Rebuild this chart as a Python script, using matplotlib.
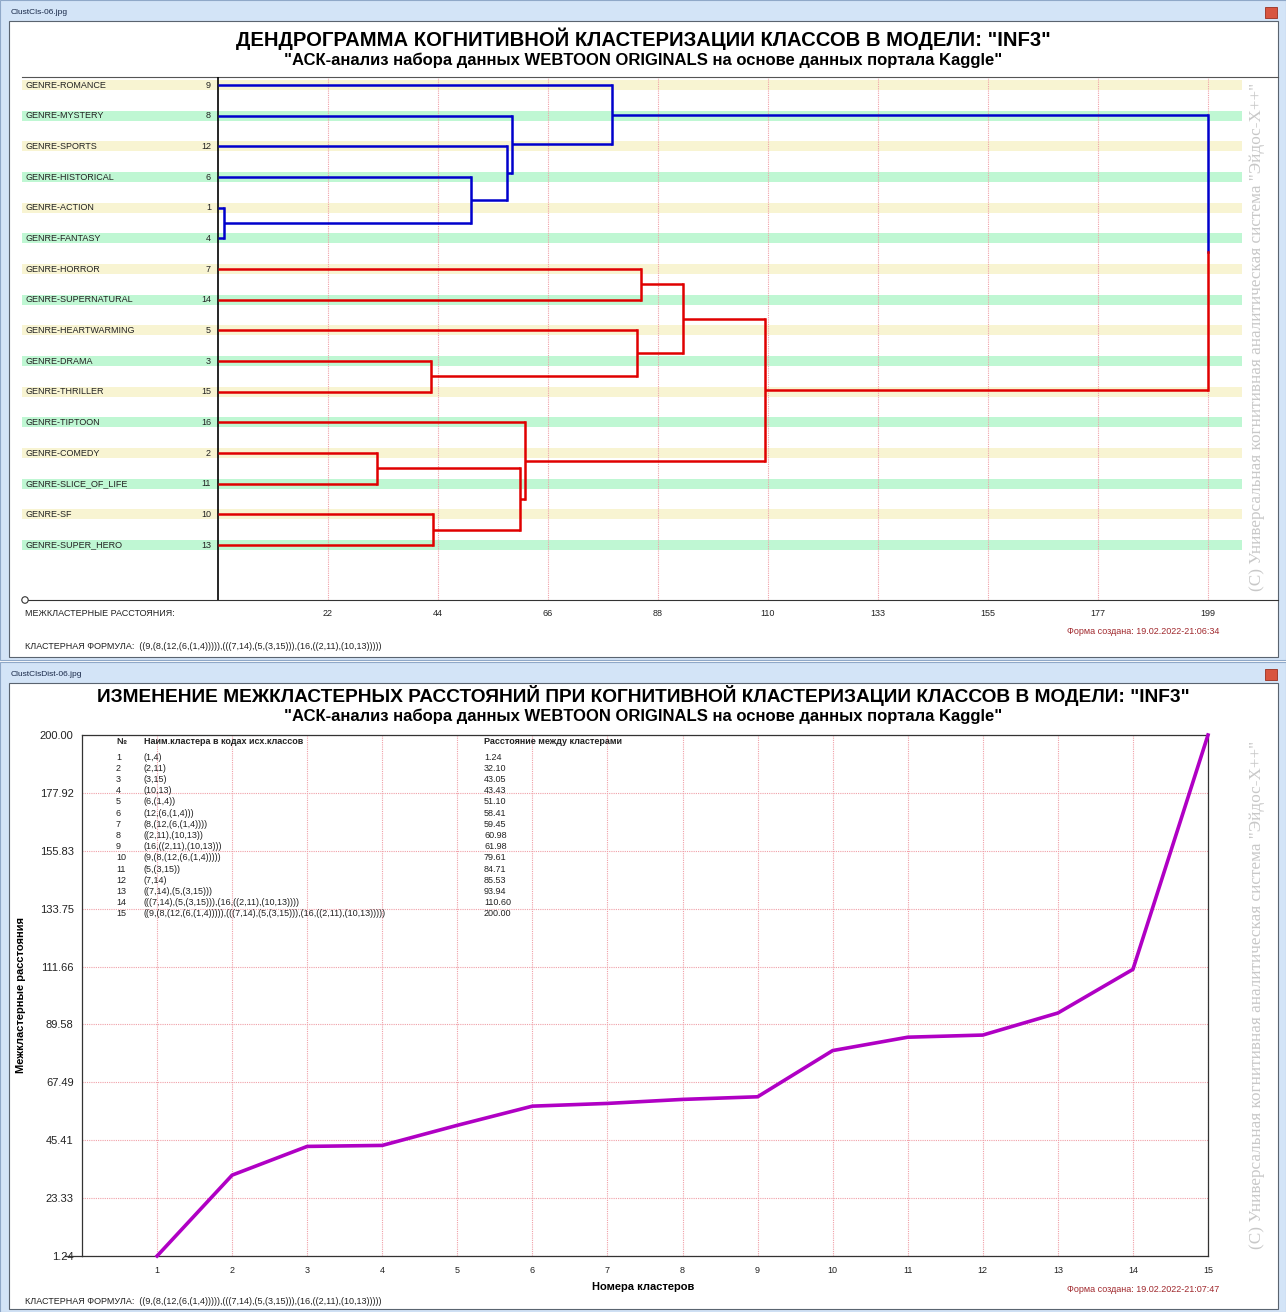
import matplotlib
matplotlib.use("Agg")
import matplotlib.pyplot as plt
from matplotlib.patches import Rectangle, Circle
from matplotlib.lines import Line2D

plt.rcParams['font.family'] = ['Liberation Sans', 'DejaVu Sans']

W, H = 1286, 1312

# --- data -----------------------------------------------------------------
leaf_names = ["GENRE-ROMANCE", "GENRE-MYSTERY", "GENRE-SPORTS", "GENRE-HISTORICAL",
              "GENRE-ACTION", "GENRE-FANTASY", "GENRE-HORROR", "GENRE-SUPERNATURAL",
              "GENRE-HEARTWARMING", "GENRE-DRAMA", "GENRE-THRILLER", "GENRE-TIPTOON",
              "GENRE-COMEDY", "GENRE-SLICE_OF_LIFE", "GENRE-SF", "GENRE-SUPER_HERO"]
leaf_ids = [9, 8, 12, 6, 1, 4, 7, 14, 5, 3, 15, 16, 2, 11, 10, 13]

# merges: new cluster k gets id 16+k
merge_a = [1, 2, 3, 10, 6, 12, 8, 18, 16, 9, 5, 7, 28, 29, 26]
merge_b = [4, 11, 15, 13, 17, 21, 22, 20, 24, 23, 19, 14, 27, 25, 30]
distances = [1.24, 32.10, 43.05, 43.43, 51.10, 58.41, 59.45, 60.98, 61.98,
             79.61, 84.71, 85.53, 93.94, 110.60, 200.00]
cluster_names = ["(1,4)", "(2,11)", "(3,15)", "(10,13)", "(6,(1,4))", "(12,(6,(1,4)))",
                 "(8,(12,(6,(1,4))))", "((2,11),(10,13))", "(16,((2,11),(10,13)))",
                 "(9,(8,(12,(6,(1,4)))))", "(5,(3,15))", "(7,14)", "((7,14),(5,(3,15)))",
                 "(((7,14),(5,(3,15))),(16,((2,11),(10,13))))",
                 "((9,(8,(12,(6,(1,4))))),(((7,14),(5,(3,15))),(16,((2,11),(10,13)))))"]
cluster_nums = list(range(1, 16))

dend_ticks = ["22", "44", "66", "88", "110", "133", "155", "177", "199"]
dist_yticks = ["1.24", "23.33", "45.41", "67.49", "89.58", "111.66", "133.75",
               "155.83", "177.92", "200.00"]

formula = "((9,(8,(12,(6,(1,4))))),(((7,14),(5,(3,15))),(16,((2,11),(10,13)))))"
title1 = 'ДЕНДРОГРАММА КОГНИТИВНОЙ КЛАСТЕРИЗАЦИИ КЛАССОВ В МОДЕЛИ: "INF3"'
title2 = 'ИЗМЕНЕНИЕ МЕЖКЛАСТЕРНЫХ РАССТОЯНИЙ ПРИ КОГНИТИВНОЙ КЛАСТЕРИЗАЦИИ КЛАССОВ В МОДЕЛИ: "INF3"'
subtitle = '"АСК-анализ набора данных WEBTOON ORIGINALS на основе данных портала Kaggle"'
watermark = '(С) Универсальная когнитивная аналитическая система "Эйдос-Х++"'

# --- helpers ----------------------------------------------------------------
def fx(px):
    return px / W

def fy(py):
    return 1 - py / H

def box(l, t, r, b):
    return [fx(l), fy(b), (r - l) / W, (b - t) / H]

fig = plt.figure(figsize=(W / 100, H / 100), dpi=100)
fig.patch.set_facecolor("white")

BLUE = "#0000CC"
RED = "#E00000"
GRID = "#F0A0A8"
DARKRED = "#A0282D"

# window frames (drawn below the axes)
for (t, b, name) in [(0, 660, "ClustCls-06.jpg"), (662, 1312, "ClustClsDist-06.jpg")]:
    fig.patches.append(Rectangle((fx(0), fy(b)), 1, (b - t) / H, transform=fig.transFigure,
                                 facecolor="#D3E4F7", edgecolor="#8FA8C8", lw=0.8, zorder=-5))
    fig.patches.append(Rectangle((fx(9), fy(b - 3)), (1278 - 9) / W, (b - 3 - t - 21) / H,
                                 transform=fig.transFigure, facecolor="white",
                                 edgecolor="#5A6470", lw=0.8, zorder=-4))
    fig.patches.append(Rectangle((fx(1265), fy(t + 18)), 12 / W, 11 / H, transform=fig.transFigure,
                                 facecolor="#D8553F", edgecolor="#9A3020", lw=0.6, zorder=-3))
    fig.text(fx(11), fy(t + 13), name, fontsize=6, color="#1A2A4A", va="center")

# ============ dendrogram ============
px0, ppu = 218, 4.95          # pixel of zero, pixels per unit
sp, ly0 = 30.67, 85           # leaf spacing, first leaf pixel
al, ar, at, ab = 22, 1278, 77, 600
ax1 = fig.add_axes(box(al, at, ar, ab))
ax1.patch.set_alpha(0)
ax1.set_xlim(-(px0 - al) / ppu, (ar - px0) / ppu)
ax1.set_ylim((ab - ly0) / sp, (at - ly0) / sp)
for s in ["left", "right"]:
    ax1.spines[s].set_visible(False)
ax1.spines["top"].set_color("#555555")
ax1.spines["bottom"].set_color("#333333")
ax1.set_xticks([])
ax1.set_yticks([])

xmin = ax1.get_xlim()[0]
stripe_w = (1242 - al) / ppu
for i, name in enumerate(leaf_names):
    col = "#F8F4D2" if i % 2 == 0 else "#BFF7D3"
    ax1.barh(i, stripe_w, left=xmin, height=10 / sp, color=col, zorder=0)
    ax1.text((25 - px0) / ppu, i, name, fontsize=6.5, va="center", ha="left", color="#222222")
    ax1.text((211 - px0) / ppu, i, str(leaf_ids[i]), fontsize=6.5, va="center", ha="right",
             color="#222222")

tick_pos = [200 * k / 9 for k in range(1, 10)]
ax1.vlines(tick_pos, *ax1.get_ylim(), colors=GRID, linestyles=(0, (1, 1)), lw=0.8, zorder=1)
ax1.axvline(0, color="black", lw=1.2, zorder=3)
for xp, lab in zip(tick_pos, dend_ticks):
    fig.text(fx(px0 + xp * ppu), fy(614), lab, fontsize=6.5, ha="center", va="center",
             color="#222222")

# node positions
node_x = {lid: 0.0 for lid in leaf_ids}
node_y = {lid: i for i, lid in enumerate(leaf_ids)}
members = {lid: {lid} for lid in leaf_ids}
for k, (a, b, d) in enumerate(zip(merge_a, merge_b, distances)):
    nid = 17 + k
    node_x[nid] = d
    node_y[nid] = (node_y[a] + node_y[b]) / 2
    members[nid] = members[a] | members[b]

blue_set = members[26]
root = 16 + len(distances)
for k, (a, b, d) in enumerate(zip(merge_a, merge_b, distances)):
    nid = 17 + k
    for c in (a, b):
        col = BLUE if members[c] <= blue_set else RED
        ax1.plot([node_x[c], d], [node_y[c], node_y[c]], color=col, lw=1.8, zorder=4,
                 solid_capstyle="butt")
    if nid == root:
        mid = node_y[nid]
        ax1.plot([d, d], [node_y[a], mid], color=BLUE if members[a] <= blue_set else RED,
                 lw=1.8, zorder=4)
        ax1.plot([d, d], [mid, node_y[b]], color=BLUE if members[b] <= blue_set else RED,
                 lw=1.8, zorder=4)
    else:
        col = BLUE if members[nid] <= blue_set else RED
        ax1.plot([d, d], [node_y[a], node_y[b]], color=col, lw=1.8, zorder=4)

fig.patches.append(Circle((fx(25), fy(600)), 3.2 / W, transform=fig.transFigure,
                          facecolor="white", edgecolor="#333333", lw=0.8, zorder=5))

fig.text(0.5, fy(46), title1, fontsize=14.6, fontweight="bold", ha="center", va="baseline")
fig.text(0.5, fy(65), subtitle, fontsize=12, fontweight="bold", ha="center", va="baseline")
fig.text(fx(25), fy(614), "МЕЖКЛАСТЕРНЫЕ РАССТОЯНИЯ:", fontsize=6.5, va="center",
         color="#222222")
fig.text(fx(25), fy(646), "КЛАСТЕРНАЯ ФОРМУЛА:  " + formula, fontsize=6.5, va="center",
         color="#222222")
fig.text(fx(1067), fy(632), "Форма создана: 19.02.2022-21:06:34", fontsize=6.5,
         va="center", color=DARKRED)
fig.text(fx(1257), fy(337), watermark, fontsize=12.3, rotation=90, ha="center", va="center",
         color="#C8C8C8", family=["Liberation Serif", "DejaVu Serif"])

# ============ distance curve ============
ax2 = fig.add_axes(box(82, 735, 1208, 1256))
ax2.patch.set_alpha(0)
ax2.set_xlim(0, 15)
ax2.set_ylim(float(dist_yticks[0]), float(dist_yticks[-1]))
yt = [float(v) for v in dist_yticks]
ax2.set_xticks(cluster_nums)
ax2.set_xticklabels([str(n) for n in cluster_nums], fontsize=6.5, color="#222222")
ax2.set_yticks(yt)
ax2.set_yticklabels(dist_yticks, fontsize=8, color="#222222")
ax2.tick_params(length=0, pad=6)
ax2.tick_params(axis="x", pad=7)
for s in ax2.spines.values():
    s.set_color("#333333")
    s.set_linewidth(0.9)
ax2.grid(True, color=GRID, linestyle=(0, (1, 1)), lw=0.8)
ax2.set_axisbelow(True)
ax2.plot(cluster_nums, distances, color="#B000C4", lw=2.6, zorder=5, clip_on=False)
fig.lines.append(Line2D([fx(65), fx(82)], [fy(1256), fy(1256)], transform=fig.transFigure,
                        color="#333333", lw=0.9))

# table inside plot
tcol = "#222222"
fig.text(fx(116), fy(742), "№", fontsize=6.5, fontweight="bold", va="center", color=tcol)
fig.text(fx(144), fy(742), "Наим.кластера в кодах исх.классов", fontsize=6.5,
         fontweight="bold", va="center", color=tcol)
fig.text(fx(484), fy(742), "Расстояние между кластерами", fontsize=6.5, fontweight="bold",
         va="center", color=tcol)
for i, (n, nm, d) in enumerate(zip(cluster_nums, cluster_names, distances)):
    yy = fy(757 + i * 11.2)
    fig.text(fx(116), yy, str(n), fontsize=6.5, va="center", color=tcol)
    fig.text(fx(144), yy, nm, fontsize=6.5, va="center", color=tcol)
    fig.text(fx(484), yy, f"{d:.2f}", fontsize=6.5, va="center", color=tcol)

fig.text(0.5, fy(702), title2, fontsize=13.8, fontweight="bold", ha="center", va="baseline")
fig.text(0.5, fy(721), subtitle, fontsize=12, fontweight="bold", ha="center", va="baseline")
fig.text(fx(643), fy(1287), "Номера кластеров", fontsize=8, fontweight="bold",
         ha="center", va="center")
fig.text(fx(21), fy(995), "Межкластерные расстояния", fontsize=8, fontweight="bold",
         rotation=90, ha="center", va="center")
fig.text(fx(1067), fy(1289), "Форма создана: 19.02.2022-21:07:47", fontsize=6.5,
         va="center", color=DARKRED)
fig.text(fx(25), fy(1302), "КЛАСТЕРНАЯ ФОРМУЛА:  " + formula, fontsize=6.5, va="center",
         color="#222222")
fig.text(fx(1257), fy(995), watermark, fontsize=12.3, rotation=90, ha="center", va="center",
         color="#C8C8C8", family=["Liberation Serif", "DejaVu Serif"])

fig.savefig("out.png", dpi=100)
